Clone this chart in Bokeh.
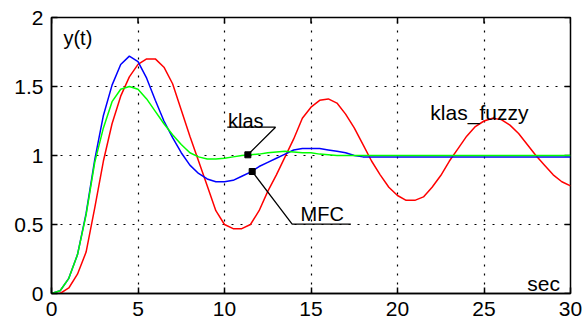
import math
from bokeh.plotting import figure
from bokeh.models import FixedTicker, Range1d, Label
from bokeh.embed import file_html
from bokeh.resources import INLINE

# ---- data ----
t = [0, 0.5, 1.0, 1.5, 2.0, 2.5, 3.0, 3.5, 4.0, 4.5, 5.0, 5.5, 6.0, 6.5, 7.0, 7.5,
     8.0, 8.5, 9.0, 9.5, 10.0, 10.5, 11.0, 11.5, 12.0, 12.5, 13.0, 13.5, 14.0, 14.5,
     15.0, 15.5, 16.0, 16.5, 17.0, 17.5, 18.0, 18.5, 19.0, 19.5, 20.0, 20.5, 21.0,
     21.5, 22.0, 22.5, 23.0, 23.5, 24.0, 24.5, 25.0, 25.5, 26.0, 26.5, 27.0, 27.5,
     28.0, 28.5, 29.0, 29.5, 30.0]

klas = [0, 0.02, 0.11, 0.28, 0.57, 0.95, 1.20, 1.39, 1.48, 1.50, 1.48, 1.41, 1.32,
        1.23, 1.15, 1.08, 1.02, 0.99, 0.975, 0.975, 0.98, 0.99, 1.0, 1.005, 1.01,
        1.02, 1.025, 1.03, 1.025, 1.02, 1.02, 1.01, 1.005, 1.0, 1.0, 1.0, 1.0, 1.0,
        1.0, 1.0, 1.0, 1.0, 1.0, 1.0, 1.0, 1.0, 1.0, 1.0, 1.0, 1.0, 1.0, 1.0, 1.0,
        1.0, 1.0, 1.0, 1.0, 1.0, 1.0, 1.0, 1.0]

mfc = [0, 0.02, 0.11, 0.28, 0.58, 0.97, 1.29, 1.51, 1.66, 1.72, 1.68, 1.56, 1.40,
       1.25, 1.13, 1.02, 0.93, 0.87, 0.83, 0.81, 0.81, 0.82, 0.85, 0.88, 0.92, 0.95,
       0.98, 1.01, 1.04, 1.05, 1.05, 1.05, 1.04, 1.03, 1.02, 1.0, 0.99, 0.99, 0.99,
       0.99, 0.99, 0.99, 0.99, 0.99, 0.99, 0.99, 0.99, 0.99, 0.99, 0.99, 0.99, 0.99,
       0.99, 0.99, 0.99, 0.99, 0.99, 0.99, 0.99, 0.99, 0.99]

klas_fuzzy = [0, 0.0, 0.04, 0.14, 0.30, 0.62, 0.96, 1.23, 1.43, 1.57, 1.66, 1.70,
              1.70, 1.64, 1.52, 1.33, 1.14, 0.96, 0.78, 0.60, 0.50, 0.47, 0.47, 0.50,
              0.60, 0.74, 0.86, 0.99, 1.12, 1.27, 1.35, 1.40, 1.41, 1.38, 1.30, 1.20,
              1.08, 0.96, 0.86, 0.77, 0.71, 0.675, 0.675, 0.70, 0.77, 0.855, 0.96,
              1.05, 1.14, 1.21, 1.25, 1.27, 1.26, 1.22, 1.16, 1.08, 1.0, 0.93, 0.86,
              0.81, 0.78]

x_ticks = [0, 5, 10, 15, 20, 25, 30]
y_ticks = [0, 0.5, 1, 1.5, 2]
y_tick_labels = ["0", "0.5", "1", "1.5", "2"]

# annotation anchors (data units)
klas_marker = (11.35, 1.005)
klas_leader_x = [10.16, 12.95]
klas_leader_y = [1.205, 1.205]
mfc_marker = (11.6, 0.884)
mfc_leader_x = [13.91, 17.3]
mfc_leader_y = [0.502, 0.502]

FONT = "Liberation Sans"
X0, X1, Y0, Y1 = 0, 30, 0, 2

p = figure(width=583, height=326, output_backend="svg", toolbar_location=None,
           x_range=Range1d(X0, X1), y_range=Range1d(Y0, Y1),
           min_border_left=51, min_border_right=13, min_border_top=17,
           min_border_bottom=33)
p.background_fill_color = "white"
p.border_fill_color = "white"
p.outline_line_color = "black"
p.outline_line_width = 1.5

# grid
for g in (p.xgrid, p.ygrid):
    g.grid_line_color = "black"
    g.grid_line_dash = "2 7"
    g.grid_line_width = 1.2
p.xgrid.ticker = FixedTicker(ticks=x_ticks)
p.ygrid.ticker = FixedTicker(ticks=y_ticks)

for ax in (p.xaxis[0], p.yaxis[0]):
    ax.axis_line_color = "black"
    ax.axis_line_width = 1.5
    ax.major_tick_in = 6
    ax.major_tick_out = 0
    ax.major_tick_line_color = "black"
    ax.major_tick_line_width = 1.5
    ax.minor_tick_line_color = None
    ax.major_label_text_font = FONT
    ax.major_label_text_color = "black"
    ax.major_label_text_font_size = "21px"
    ax.major_label_standoff = 8

p.xaxis.ticker = FixedTicker(ticks=x_ticks)
p.yaxis.ticker = FixedTicker(ticks=y_ticks)
p.yaxis.major_label_overrides = {yt: lab for yt, lab in zip(y_ticks, y_tick_labels)}
p.xaxis.major_label_overrides = {xt: str(xt) for xt in x_ticks}

# inward tick marks on the top and right frame edges (outer half clipped by the frame)
p.scatter(x_ticks, [Y1] * len(x_ticks), marker="dash", size=12, angle=math.pi / 2,
          line_color="black", line_width=1.5)
p.scatter([X1] * len(y_ticks), y_ticks, marker="dash", size=12,
          line_color="black", line_width=1.5)

# curves
p.line(t, klas_fuzzy, line_color="#ff0000", line_width=1.5)
p.line(t, mfc, line_color="#0000ff", line_width=1.5)
p.line(t, klas, line_color="#00ff00", line_width=1.5)

# leader lines
p.line(klas_leader_x + [klas_marker[0]], klas_leader_y + [klas_marker[1]],
       line_color="black", line_width=1.3)
p.line([mfc_marker[0]] + mfc_leader_x, [mfc_marker[1]] + mfc_leader_y,
       line_color="black", line_width=1.3)
p.scatter([klas_marker[0], mfc_marker[0]], [klas_marker[1], mfc_marker[1]],
          marker="square", size=6, color="black")

labels = [("y(t)", 0.69, 1.85, "20px"), ("klas", 10.2, 1.25, "20px"),
          ("MFC", 14.4, 0.575, "20px"), ("klas_fuzzy", 21.9, 1.31, "21px"),
          ("sec", 27.5, 0.07, "21px")]
for txt, lx, ly, fs in labels:
    p.add_layout(Label(x=lx, y=ly, text=txt, text_font=FONT, text_font_size=fs,
                       text_color="black", text_baseline="alphabetic"))

open("out.html", "w").write(file_html(p, INLINE))
